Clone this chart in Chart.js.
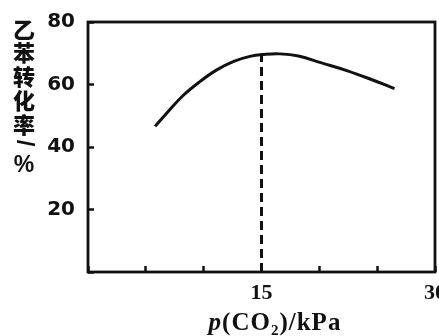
<!DOCTYPE html>
<html>
<head>
<meta charset="utf-8">
<script src="https://cdn.jsdelivr.net/npm/chart.js@4"></script>
<style>
  body { margin: 0; background: #fff; }
  #wrap { width: 439px; height: 336px; }
</style>
</head>
<body>
<div id="wrap"><canvas id="chart" width="439" height="336"></canvas></div>
<script>
// values
const pressure = [5.8, 6.8, 8.2, 9.7, 11.1, 12.6, 14, 15.2, 16.6, 18.2, 20.2, 22.5, 24.5, 26.5];             // p(CO2) / kPa
const conversion = [46.6, 50.8, 56.4, 61.0, 64.6, 67.4, 69.0, 69.6, 69.8, 69.1, 66.9, 64.3, 61.6, 58.7];   // 乙苯转化率 / %
const dropX = [15, 15];
const dropY = [0, 69.6];
const xTickValues = [0, 5, 10, 15, 20, 25, 30];
const xTickLabels = [15, 30];
const yTickLabels = [20, 40, 60, 80];
const yTitle = ['乙', '苯', '转', '化', '率', '/', '%'];
const yTitlePos = [30, 53, 77, 101, 125, 143, 166];

const ink = '#111';

// frame + axis titles
const decor = {
    id: 'decor',
    afterDraw(chart) {
        const { ctx, chartArea: a } = chart;
        ctx.save();
        ctx.strokeStyle = ink;
        ctx.lineWidth = 2.8;
        ctx.strokeRect(a.left, a.top, a.right - a.left, a.bottom - a.top);

        // y title, stacked characters
        ctx.fillStyle = ink;
        ctx.textAlign = 'center';
        ctx.textBaseline = 'middle';
        yTitle.forEach((ch, i) => {
            const y = yTitlePos[i];
            if (ch === '/') {
                ctx.font = 'bold 24px "Liberation Sans"';
                ctx.save();
                ctx.translate(24, y);
                ctx.rotate(Math.PI / 2);
                ctx.fillText(ch, 0, 0);
                ctx.restore();
            } else if (ch === '%') {
                ctx.font = 'bold 23px "Liberation Sans"';
                ctx.fillText(ch, 24, y);
            } else {
                ctx.font = '900 22px "Noto Sans CJK SC"';
                ctx.fillText(ch, 24, y);
            }
        });

        // x title: p(CO2)/kPa
        const parts = [
            { t: 'p', f: 'italic bold 25px "Liberation Serif"', dy: 0 },
            { t: '(CO', f: 'bold 25px "Liberation Serif"', dy: 0 },
            { t: '2', f: 'bold 15px "Liberation Serif"', dy: 5 },
            { t: ')/kPa', f: 'bold 25px "Liberation Serif"', dy: 0 }
        ];
        ctx.letterSpacing = '1px';
        let w = 0;
        parts.forEach(p => { ctx.font = p.f; p.w = ctx.measureText(p.t).width; w += p.w; });
        let x = 275 - w / 2;
        ctx.textAlign = 'left';
        ctx.textBaseline = 'alphabetic';
        parts.forEach(p => {
            ctx.font = p.f;
            ctx.fillText(p.t, x, 330 + p.dy);
            x += p.w;
        });
        ctx.restore();
    }
};

new Chart(document.getElementById('chart'), {
    type: 'line',
    data: {
        datasets: [{
            data: pressure.map((p, i) => ({ x: p, y: conversion[i] })),
            borderColor: ink,
            borderWidth: 3,
            pointRadius: 0,
            tension: 0.4,
            fill: false
        }, {
            data: dropX.map((p, i) => ({ x: p, y: dropY[i] })),
            borderColor: ink,
            borderWidth: 3,
            borderDash: [9, 5],
            pointRadius: 0,
            fill: false
        }]
    },
    options: {
        responsive: false,
        animation: false,
        events: [],
        layout: { padding: { left: 0, top: 22, right: 4, bottom: 0 } },
        plugins: { legend: { display: false }, tooltip: { enabled: false } },
        scales: {
            x: {
                type: 'linear',
                min: 0,
                max: 30,
                afterBuildTicks: s => { s.ticks = xTickValues.map(v => ({ value: v })); },
                afterFit: s => { s.height = 64; s.paddingLeft = 0; s.paddingRight = 0; },
                border: { display: false },
                grid: { drawOnChartArea: false, tickLength: -6, tickWidth: 2.5, tickColor: ink },
                ticks: {
                    padding: 14,
                    color: ink,
                    maxRotation: 0,
                    autoSkip: false,
                    font: { family: '"Liberation Serif"', size: 22, weight: 'bold' },
                    callback: v => xTickLabels.includes(v) ? String(v) : ''
                }
            },
            y: {
                min: 0,
                max: 80,
                afterBuildTicks: s => { s.ticks = [0].concat(yTickLabels).map(v => ({ value: v })); },
                afterFit: s => { s.width = 88; s.paddingTop = 0; s.paddingBottom = 0; },
                border: { display: false },
                grid: { drawOnChartArea: false, tickLength: -6, tickWidth: 2.5, tickColor: ink },
                ticks: {
                    padding: 19,
                    color: ink,
                    font: { family: '"DejaVu Sans"', size: 20, weight: 'bold' },
                    callback: v => yTickLabels.includes(v) ? String(v) : ''
                }
            }
        }
    },
    plugins: [decor]
});
</script>
</body>
</html>
